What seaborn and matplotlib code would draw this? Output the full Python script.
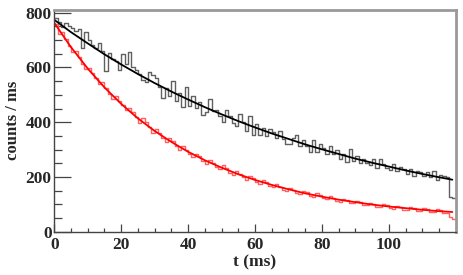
import numpy as np
import pandas as pd
import seaborn as sns
import matplotlib.pyplot as plt

# bin centres (1 ms bins, 0-120 ms)
centers = np.arange(0, 120, 1) + 0.5

# black histogram (counts / ms)
black_counts = [782, 768, 748, 763, 752, 744, 733, 741, 672, 728,
                700, 681, 672, 688, 660, 588, 652, 630, 622, 592,
                648, 612, 655, 600, 592, 578, 556, 548, 584, 572,
                560, 528, 487, 526, 495, 549, 478, 507, 456, 530,
                459, 494, 453, 473, 427, 437, 486, 441, 446, 421,
                401, 446, 421, 396, 386, 431, 402, 367, 422, 353,
                393, 354, 379, 350, 376, 366, 342, 368, 339, 320,
                321, 342, 353, 314, 335, 312, 293, 334, 291, 322,
                304, 285, 312, 283, 300, 266, 283, 255, 302, 258,
                275, 252, 264, 251, 243, 265, 232, 264, 246, 233,
                226, 248, 220, 238, 230, 212, 230, 202, 220, 217,
                204, 217, 200, 222, 190, 208, 203, 198, 125, 122]

# red histogram (counts / ms)
red_counts = [760, 722, 728, 704, 678, 655, 660, 640, 612, 596,
              598, 580, 562, 538, 546, 526, 504, 484, 496, 478,
              462, 446, 452, 436, 418, 398, 414, 400, 384, 362,
              376, 362, 344, 326, 342, 330, 312, 298, 312, 300,
              284, 272, 284, 276, 258, 248, 262, 252, 236, 230,
              242, 232, 214, 208, 222, 212, 198, 190, 202, 196,
              182, 176, 188, 180, 166, 162, 174, 164, 154, 150,
              160, 154, 142, 138, 150, 144, 132, 128, 140, 134,
              122, 118, 130, 124, 112, 110, 121, 116, 106, 103,
              113, 109, 98, 96, 106, 102, 92, 90, 100, 96,
              86, 84, 95, 92, 81, 80, 90, 86, 76, 76,
              86, 82, 72, 71, 82, 78, 68, 68, 55, 45]

# fitted curves
fit_t = [0, 5, 10, 15, 20, 25, 30, 35, 40, 45, 50, 55, 60,
         65, 70, 75, 80, 85, 90, 95, 100, 105, 110, 115, 119]
black_fit = [774, 729, 688, 648, 611, 576, 543, 512, 483, 455, 429, 404, 381,
             359, 339, 319, 301, 284, 267, 252, 238, 224, 211, 199, 190]
red_fit = [763, 674, 596, 527, 467, 414, 368, 328, 292, 261, 234, 210, 189,
           171, 155, 140, 128, 117, 108, 99, 92, 86, 80, 75, 72]

sns.set_style('ticks')
plt.rcParams['font.family'] = ['Liberation Serif', 'DejaVu Serif']
plt.rcParams['font.weight'] = 'bold'

fig = plt.figure(figsize=(4.63, 2.75), dpi=100)
ax = fig.add_axes([0.1173, 0.1575, 0.8669, 0.8061])

df_hist = pd.DataFrame({'t': centers, 'black': black_counts, 'red': red_counts})
sns.histplot(data=df_hist, x='t', weights='black', binwidth=1, binrange=(0, 120),
             element='step', fill=False, color='#606060', linewidth=1.0, ax=ax)
sns.histplot(data=df_hist, x='t', weights='red', binwidth=1, binrange=(0, 120),
             element='step', fill=False, color='#ff6060', linewidth=1.0, ax=ax)

df_fit = pd.DataFrame({'t': fit_t, 'black': black_fit, 'red': red_fit})
sns.lineplot(data=df_fit, x='t', y='black', color='black', linewidth=1.3, ax=ax)
sns.lineplot(data=df_fit, x='t', y='red', color='#ff0000', linewidth=1.3, ax=ax)

ax.set_xlim(0, 120)
ax.set_ylim(0, 810)
ax.set_xticks([0, 20, 40, 60, 80, 100])
ax.set_xticks(np.arange(0, 120, 5), minor=True)
ax.set_yticks([0, 200, 400, 600, 800])
ax.set_yticks(np.arange(0, 801, 50), minor=True)

ax.tick_params(axis='both', which='major', direction='in', labelsize=12.5,
               color='#444444', width=0.9)
ax.tick_params(axis='x', which='major', length=6, pad=4)
ax.tick_params(axis='x', which='minor', direction='in', length=3,
               color='#444444', width=0.9)
ax.tick_params(axis='y', which='major', length=12, pad=2)
ax.tick_params(axis='y', which='minor', direction='in', length=6,
               color='#444444', width=0.9)

for lab in ax.get_xticklabels() + ax.get_yticklabels():
    lab.set_fontweight('bold')

ax.set_xlabel('t (ms)', fontsize=12.5, fontweight='bold', labelpad=1)
ax.set_ylabel('counts / ms', fontsize=12, fontweight='bold', labelpad=3)

for side in ['left', 'bottom']:
    ax.spines[side].set_color('#444444')
    ax.spines[side].set_linewidth(1.0)
for side in ['top', 'right']:
    ax.spines[side].set_visible(True)
    ax.spines[side].set_color('#999999')
    ax.spines[side].set_linewidth(2.0)

fig.savefig('out.png', dpi=100)
